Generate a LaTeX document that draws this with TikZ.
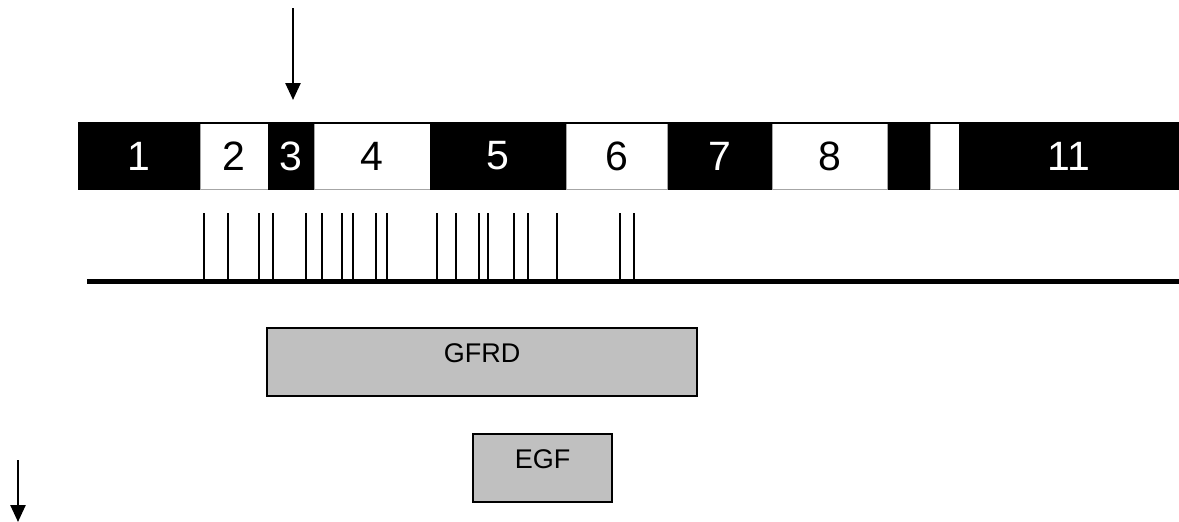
\documentclass[tikz,border=0pt]{standalone}
\usepackage{fontspec}
\setmainfont{Liberation Sans}
\usetikzlibrary{arrows.meta, positioning}
\definecolor{domaingray}{RGB}{192,192,192}
\tikzstyle{exondark} = [
  rectangle,
  minimum height=68pt,
  inner sep=0pt,
  outer sep=0pt,
  fill=black,
  text=white,
  font=\fontsize{41}{41}\selectfont
]
\tikzstyle{exonlight} = [
  rectangle,
  minimum height=66pt,
  inner sep=0pt,
  outer sep=0pt,
  fill=white,
  draw=gray!70,
  line width=0.8pt,
  text=black,
  font=\fontsize{41}{41}\selectfont
]
\tikzstyle{domainbox} = [
  rectangle,
  minimum height=68pt,
  inner sep=0pt,
  text depth=18pt,
  draw=black,
  line width=2pt,
  fill=domaingray,
  font=\fontsize{27}{27}\selectfont
]
\tikzstyle{arrow} = [line width=2.5pt, -{Triangle[length=17pt,width=15pt]}]
\tikzstyle{sitetick} = [line width=2pt]

\begin{document}
\begin{tikzpicture}[x=1pt, y=-1pt]
    \useasboundingbox (0,0) rectangle (1179,522);

    % exon bar
    \node (exon1) [exondark, minimum width=122pt, anchor=west] at (78,156) {1};
    \node (exon2) [exonlight, minimum width=68pt, right=0pt of exon1] {2};
    \node (exon3) [exondark, minimum width=46pt, right=0pt of exon2] {3};
    \node (exon4) [exonlight, minimum width=116pt, right=0pt of exon3] {4};
    \node (exon5) [exondark, minimum width=136pt, right=0pt of exon4] {5};
    \node (exon6) [exonlight, minimum width=101.5pt, right=0pt of exon5] {6};
    \node (exon7) [exondark, minimum width=105pt, right=0pt of exon6] {7};
    \node (exon8) [exonlight, minimum width=115pt, right=0pt of exon7] {8};
    \node (exon9) [exondark, minimum width=42.5pt, right=0pt of exon8] {};
    \node (exon10) [exonlight, minimum width=29pt, right=0pt of exon9] {};
    \node (exon11) [exondark, minimum width=220pt, right=0pt of exon10] {11};
    \draw [line width=1.6pt] ([yshift=-0.8pt]exon1.north west) -- ([yshift=-0.8pt]exon11.north east);

    % cut site
    \coordinate (cut-start) at (293,8);
    \coordinate (cut-end) at (293,100);
    \draw [arrow] (cut-start) -- (cut-end);

    % sites on the axis
    \coordinate (axis-start) at (87,281);
    \coordinate (axis-end) at (1179,281);
    \draw [line width=5pt] (axis-start) -- (axis-end);
    \foreach \x in {204.3, 227.7, 258.7, 273, 306.3, 322.3, 342, 353, 376, 387,
                    436.7, 456, 479, 488, 513.7, 527.7, 557, 620, 633.7}
      \draw [sitetick] (\x,213) -- (\x,281);

    % domains
    \node (gfrd) [domainbox, minimum width=430pt] at (482,362) {GFRD};
    \node (egf) [domainbox, minimum width=139pt] at (542.5,468) {EGF};

    % direction
    \coordinate (dir-start) at (18,460);
    \coordinate (dir-end) at (18,522);
    \draw [arrow] (dir-start) -- (dir-end);
  \end{tikzpicture}
\end{document}
